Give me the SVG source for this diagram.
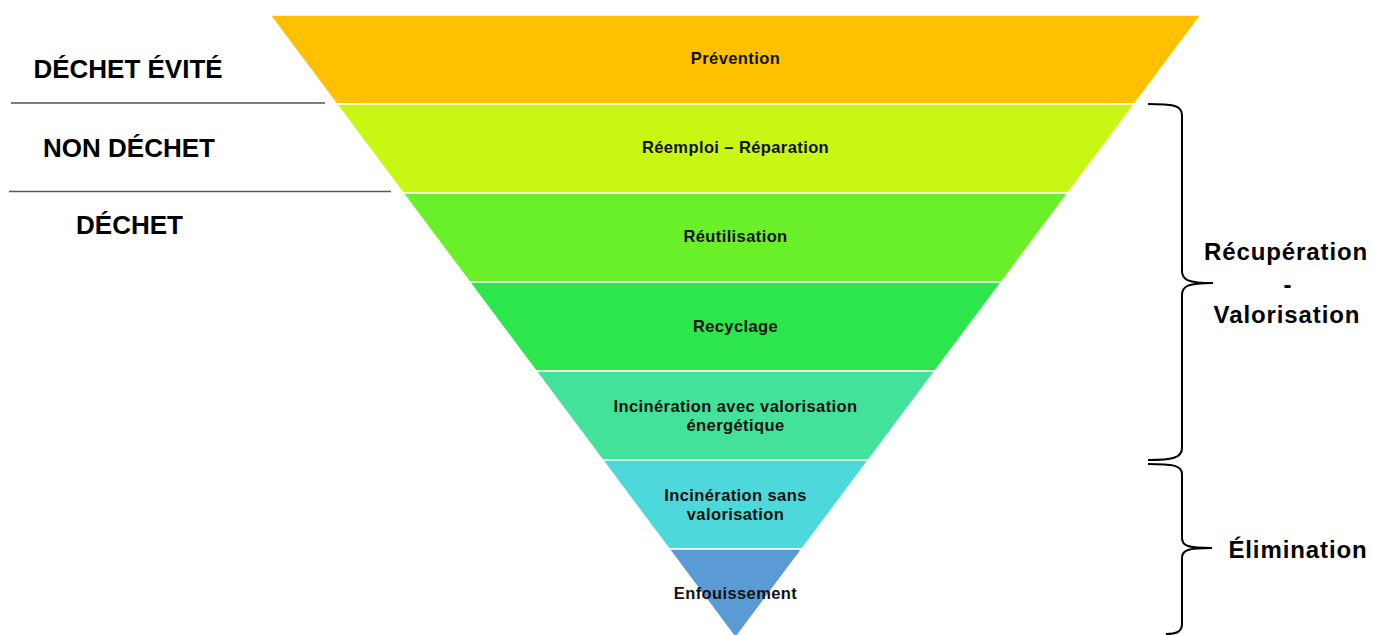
<svg xmlns="http://www.w3.org/2000/svg" width="1373" height="635" viewBox="0 0 1373 635">
<style>
.band{stroke:#ffffff;stroke-width:1.5}
.bl{font-family:"Liberation Sans",Arial,sans-serif;font-weight:bold;font-size:16.5px;letter-spacing:0.4px;fill:#111;text-anchor:middle}
.lt{font-family:"Liberation Sans",Arial,sans-serif;font-weight:bold;font-size:26px;fill:#000;text-anchor:middle}
.rt{font-family:"Liberation Sans",Arial,sans-serif;font-weight:bold;font-size:24px;letter-spacing:0.9px;fill:#000;text-anchor:middle}
.sep{stroke:#555;stroke-width:1.5}
.brace{fill:none;stroke:#000;stroke-width:2}
</style>
<rect width="1373" height="635" fill="#ffffff"/>
<g id="prevention">
<polygon class="band" fill="#FFC000" points="270,15 1201,15 1134.5,104 336.5,104"/>
<text class="bl" x="735.5" y="64">Prévention</text>
</g>
<g id="reemploi">
<polygon class="band" fill="#C8F714" points="336.5,104 1134.5,104 1068,193 403,193"/>
<text class="bl" x="735.5" y="153">Réemploi – Réparation</text>
</g>
<g id="reutilisation">
<polygon class="band" fill="#6AF028" points="403,193 1068,193 1001.5,282 469.5,282"/>
<text class="bl" x="735.5" y="242">Réutilisation</text>
</g>
<g id="recyclage">
<polygon class="band" fill="#2DE64C" points="469.5,282 1001.5,282 935,371 536,371"/>
<text class="bl" x="735.5" y="332">Recyclage</text>
</g>
<g id="incineration-valo">
<polygon class="band" fill="#42E29A" points="536,371 935,371 868.5,460 602.5,460"/>
<text class="bl" x="735.5" y="412">Incinération avec valorisation</text>
<text class="bl" x="735.5" y="431">énergétique</text>
</g>
<g id="incineration-sans">
<polygon class="band" fill="#4DD9DC" points="602.5,460 868.5,460 802,549 669,549"/>
<text class="bl" x="735.5" y="501">Incinération sans</text>
<text class="bl" x="735.5" y="520">valorisation</text>
</g>
<g id="enfouissement">
<polygon class="band" fill="#5B9BD5" points="669,549 802,549 735.5,638"/>
<text class="bl" x="735.5" y="599">Enfouissement</text>
</g>
<g id="left-labels">
<text class="lt" x="128" y="78">DÉCHET ÉVITÉ</text>
<line class="sep" x1="11" y1="103" x2="325" y2="103"/>
<text class="lt" x="129" y="157">NON DÉCHET</text>
<line class="sep" x1="9" y1="191.5" x2="391" y2="191.5"/>
<text class="lt" x="129.5" y="234">DÉCHET</text>
</g>
<g id="connectors">
<path class="brace" d="M1148,104 C1172,104 1182,105 1182,115 L1182,271 C1182,280 1188,283 1213,283 M1213,283 C1188,283 1182,286 1182,295 L1182,448 C1182,458 1172,460 1148,460"/>
<path class="brace" d="M1148,464 C1172,464 1182,465 1182,474 L1182,538 C1182,546 1188,548 1212,548 M1212,548 C1188,548 1182,550 1182,558 L1182,624 C1182,632 1176,634 1166,634"/>
</g>
<g id="recuperation">
<text class="rt" x="1286" y="260">Récupération</text>
<text class="rt" x="1288" y="293">-</text>
<text class="rt" x="1287" y="323">Valorisation</text>
</g>
<g id="elimination">
<text class="rt" x="1298" y="558">Élimination</text>
</g>
</svg>
